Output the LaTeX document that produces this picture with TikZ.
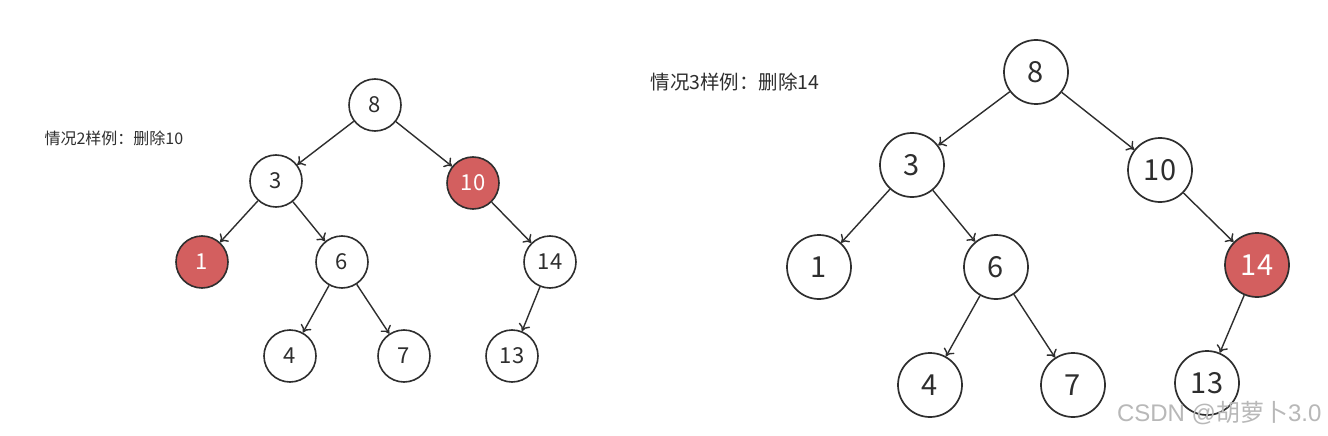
\documentclass[tikz,border=0pt]{standalone}
\usepackage{fontspec}
\setmainfont{Noto Sans CJK SC}
\newfontfamily\wmfont{Liberation Sans}
\usetikzlibrary{arrows.meta}
\definecolor{nodered}{HTML}{D35F5F}
\definecolor{ink}{HTML}{2E2E2E}
\tikzset{
  sn/.style={circle,draw=ink,line width=1.6pt,fill=white,minimum size=52pt,inner sep=0pt,text=ink,font=\fontsize{22pt}{22pt}\selectfont},
  bn/.style={circle,draw=ink,line width=1.7pt,fill=white,minimum size=64pt,inner sep=0pt,text=ink,font=\fontsize{29pt}{29pt}\selectfont},
  hot/.style={fill=nodered,text=white},
  edge/.style={draw=ink,line width=1.4pt,-{To[length=7pt,width=12pt]}},
}
\begin{document}
\begin{tikzpicture}[x=1pt,y=-1pt]
\useasboundingbox[fill=white] (0,0) rectangle (1328,436);
% left tree
\node[sn] (l8) at (375,105) {8};
\node[sn] (l3) at (276,181) {3};
\node[sn,hot] (l10) at (473,183) {10};
\node[sn,hot] (l1) at (202,262) {1};
\node[sn] (l6) at (342,262) {6};
\node[sn] (l14) at (550,262) {14};
\node[sn] (l4) at (290,356) {4};
\node[sn] (l7) at (404,356) {7};
\node[sn] (l13) at (512,356) {13};
\foreach \a/\b in {l8/l3,l8/l10,l3/l1,l3/l6,l10/l14,l6/l4,l6/l7,l14/l13}
  \draw[edge] (\a) -- (\b);
\node[anchor=west,text=ink,font=\fontsize{16pt}{17pt}\selectfont] (lab1) at (41,138) {情况2样例：删除10};
% right tree
\node[bn] (r8) at (1036,72) {8};
\node[bn] (r3) at (912,165) {3};
\node[bn] (r10) at (1160,170) {10};
\node[bn] (r1) at (819,267) {1};
\node[bn] (r6) at (996,267) {6};
\node[bn,hot] (r14) at (1257,265) {14};
\node[bn] (r4) at (930,385) {4};
\node[bn] (r7) at (1073,385) {7};
\node[bn] (r13) at (1207,383) {13};
\foreach \a/\b in {r8/r3,r8/r10,r3/r1,r3/r6,r10/r14,r6/r4,r6/r7,r14/r13}
  \draw[edge] (\a) -- (\b);
\node[anchor=west,text=ink,font=\fontsize{19.5pt}{20pt}\selectfont] (lab2) at (647,82) {情况3样例：删除14};
\node[anchor=east,text=black!28,font=\fontsize{24pt}{25pt}\selectfont] (wm) at (1325,413) {\wmfont CSDN @\normalfont 胡萝卜\wmfont 3.0};
\end{tikzpicture}
\end{document}
